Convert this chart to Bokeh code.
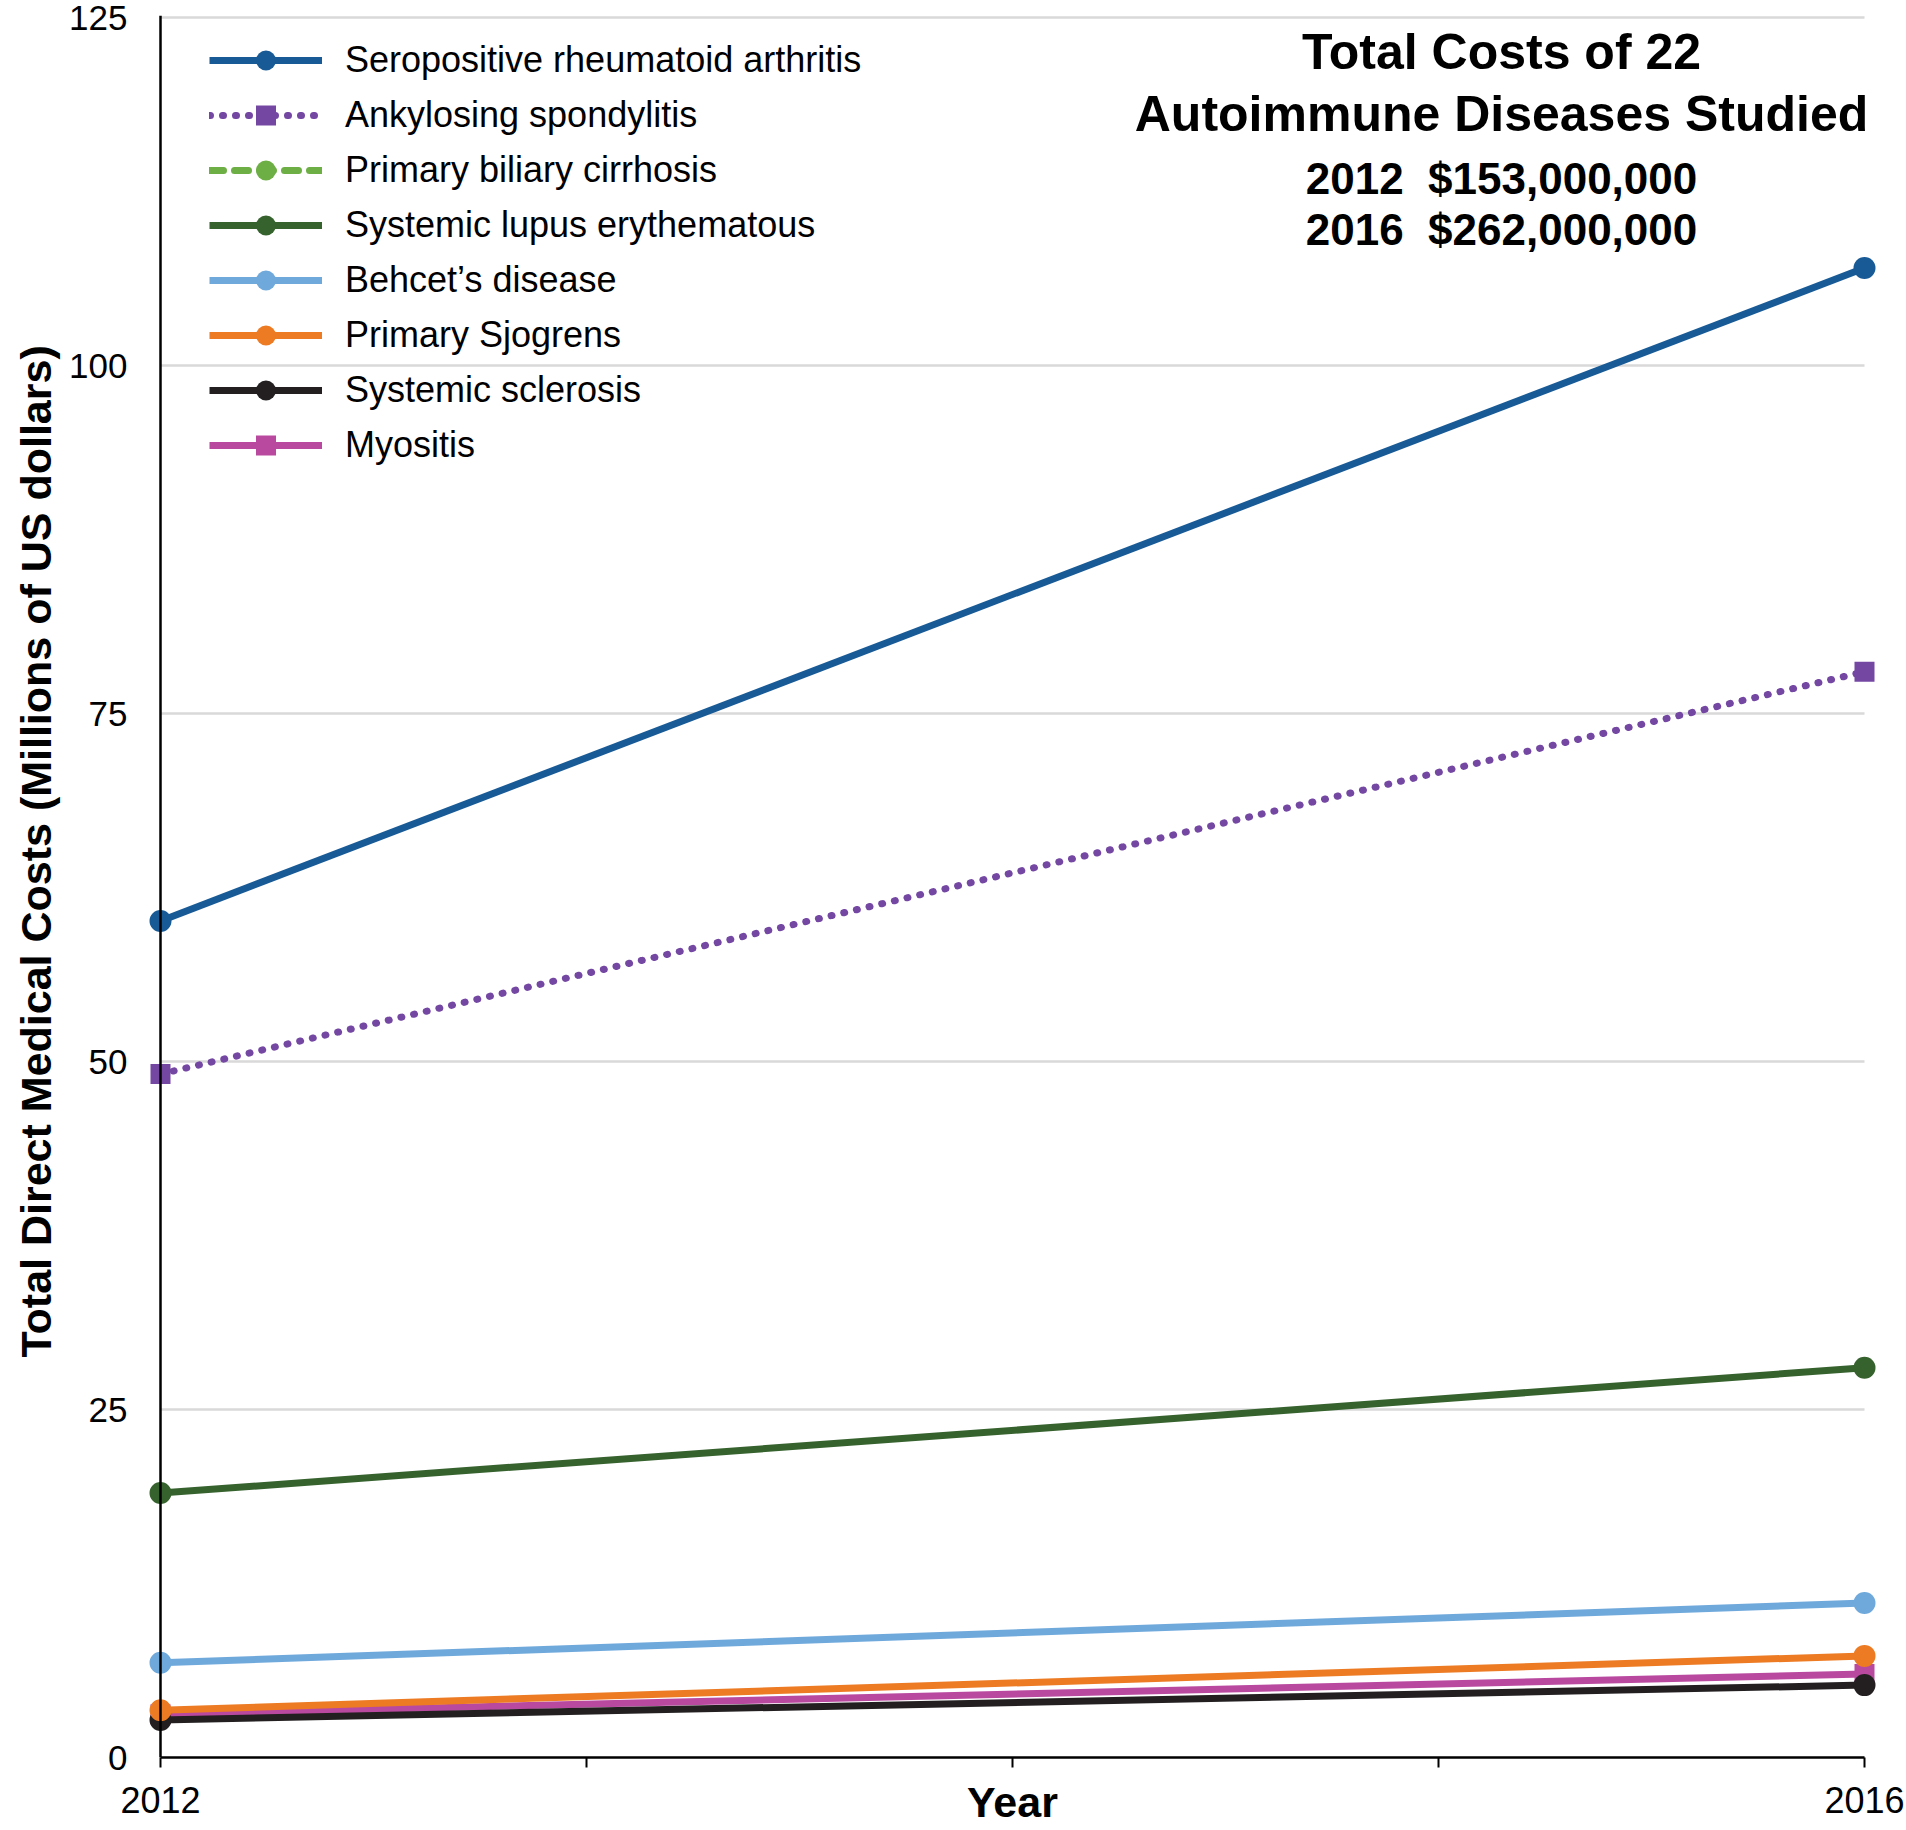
import math
from bokeh.plotting import figure
from bokeh.models import Range1d, FixedTicker, Legend, LegendItem, Label, Span, Title
from bokeh.embed import file_html
from bokeh.resources import INLINE

# ---------------- data ----------------
years = [2012, 2016]
series_names = [
    "Seropositive rheumatoid arthritis",
    "Ankylosing spondylitis",
    "Primary biliary cirrhosis",
    "Systemic lupus erythematous",
    "Behcet\u2019s disease",
    "Primary Sjogrens",
    "Systemic sclerosis",
    "Myositis",
]
ra_costs = [60.1, 107.0]
as_costs = [49.1, 78.0]
pbc_costs = [float("nan"), float("nan")]   # not visible in the chart
sle_costs = [19.0, 28.0]
behcet_costs = [6.8, 11.1]
sjogren_costs = [3.4, 7.3]
ssc_costs = [2.7, 5.2]
myositis_costs = [3.1, 6.0]

x_ticks = [2012, 2013, 2014, 2015, 2016]
x_tick_labels = ["2012", "", "", "", "2016"]
y_ticks = [0, 25, 50, 75, 100, 125]

total_title = ["Total Costs of 22", "Autoimmune Diseases Studied"]
total_years = ["2012", "2016"]
total_costs = ["$153,000,000", "$262,000,000"]

x_label = "Year"
y_label = "Total Direct Medical Costs (Millions of US dollars)"

# ---------------- styling ----------------
FONT = "Liberation Sans"
colors = ["#185A96", "#7447A3", "#6DAE45", "#36622E", "#6FA9DC", "#ED7B24", "#231F20", "#B9499F"]
markers = ["circle", "square", "circle", "circle", "circle", "circle", "circle", "square"]
dashes = ["solid", "1 12", "14 11", "solid", "solid", "solid", "solid", "solid"]
all_values = [ra_costs, as_costs, pbc_costs, sle_costs, behcet_costs, sjogren_costs, ssc_costs, myositis_costs]

px_per_year = 426.0
px_per_unit = 13.92
pad_x = 12.0 / px_per_year
pad_top = 2.0 / px_per_unit

p = figure(
    width=1906, height=1830,
    x_range=Range1d(x_ticks[0] - pad_x, x_ticks[-1] + pad_x),
    y_range=Range1d(y_ticks[0], y_ticks[-1] + pad_top),
    output_backend="svg", toolbar_location=None,
    min_border_left=148, min_border_right=30, min_border_top=15, min_border_bottom=73,
)
p.outline_line_color = None
p.xgrid.visible = False
p.ygrid.visible = False
p.background_fill_color = "white"
p.border_fill_color = "white"

# grid lines limited to the data span
n_grid = len(y_ticks) - 1
p.segment(x0=[x_ticks[0]] * n_grid, x1=[x_ticks[-1]] * n_grid,
          y0=y_ticks[1:], y1=y_ticks[1:], line_color="#D9D9D9", line_width=2.5)

# x axis
xa = p.xaxis[0]
xa.ticker = FixedTicker(ticks=x_ticks)
xa.major_label_overrides = {t: l for t, l in zip(x_ticks, x_tick_labels)}
xa.bounds = (x_ticks[0], x_ticks[-1])
xa.axis_line_color = "black"
xa.axis_line_width = 2.5
xa.major_tick_line_color = "black"
xa.major_tick_line_width = 2
xa.major_tick_out = 10
xa.major_tick_in = 0
xa.minor_tick_line_color = None
xa.major_label_text_font = FONT
xa.major_label_text_font_size = "36px"
xa.major_label_text_color = "black"
xa.major_label_standoff = 19
xa.axis_label = x_label
xa.axis_label_text_font = FONT
xa.axis_label_text_font_style = "bold"
xa.axis_label_text_font_size = "43px"
xa.axis_label_text_color = "black"
xa.axis_label_standoff = -38

# y axis (line drawn as span at x=2012)
ya = p.yaxis[0]
ya.ticker = FixedTicker(ticks=y_ticks)
ya.axis_line_color = None
ya.major_tick_line_color = None
ya.minor_tick_line_color = None
ya.major_tick_out = 0
ya.major_tick_in = 0
ya.major_label_text_font = FONT
ya.major_label_text_font_size = "35px"
ya.major_label_text_color = "black"
ya.major_label_standoff = 21

p.add_layout(Span(location=x_ticks[0], dimension="height", line_color="black", line_width=2.5))

# y-axis title (a side title, so it can sit slightly above centre like the original)
p.add_layout(Title(text=y_label, align="left", offset=400, standoff=14, vertical_align="bottom",
                   text_font=FONT, text_font_style="bold", text_font_size="43px",
                   text_color="black"), "left")

# series (drawn in reverse so the first series is on top)
renderers = {}
for i in reversed(range(len(series_names))):
    vals = all_values[i]
    lr = p.line(years, vals, line_color=colors[i], line_width=7, line_dash=dashes[i],
                line_cap="round" if dashes[i] != "solid" else "butt")
    sz = 20 if markers[i] == "square" else 22
    sr = p.scatter(years, vals, marker=markers[i], size=sz, fill_color=colors[i], line_color=colors[i], line_width=0)
    renderers[i] = [lr, sr]

items = [LegendItem(label=series_names[i], renderers=renderers[i]) for i in range(len(series_names))]
legend = Legend(
    items=items, location=(61, 1287),
    glyph_width=113, glyph_height=50, label_height=50, label_width=10,
    spacing=5, padding=0, margin=0, label_standoff=23,
    label_text_font=FONT, label_text_font_size="36px", label_text_color="black",
    border_line_color=None, background_fill_alpha=0,
)
p.add_layout(legend)

# summary text block
cx = 2012 + (1501 - 160) / px_per_year
title_lines = total_title + [f"{y}\u00a0\u00a0{c}" for y, c in zip(total_years, total_costs)]
title_y = [122.5, 118.05, 113.4, 109.75]
title_sizes = ["50px", "50px", "44px", "44px"]
for txt, ty, fs in zip(title_lines, title_y, title_sizes):
    p.add_layout(Label(x=cx, y=ty, text=txt, text_align="center", text_baseline="alphabetic",
                       text_font=FONT, text_font_style="bold", text_font_size=fs, text_color="black"))

open("out.html", "w").write(file_html(p, INLINE))
